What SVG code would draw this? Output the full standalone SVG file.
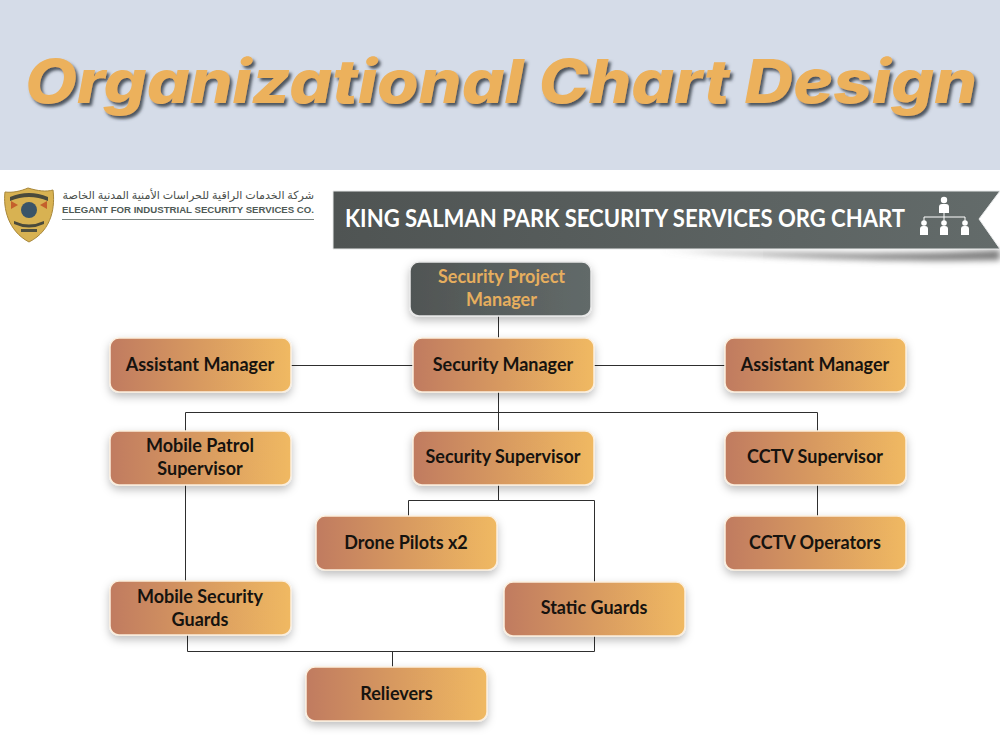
<svg xmlns="http://www.w3.org/2000/svg" width="1000" height="750" viewBox="0 0 1000 750">
<style>
.n{fill:url(#ng);stroke:#fbeedd;stroke-width:1.5;filter:url(#sh)}
.t{font-family:Lato,"Open Sans","Liberation Sans",sans-serif;font-weight:700;font-size:18px;fill:#16130f;text-anchor:middle}
.c{fill:none;stroke:#2e2e2e;stroke-width:1}
</style>
<defs>
<linearGradient id="ng"><stop offset="0" stop-color="#c07b60"/><stop offset="1" stop-color="#f0b962"/></linearGradient>
<linearGradient id="dg"><stop offset="0" stop-color="#505554"/><stop offset="1" stop-color="#626a69"/></linearGradient>
<linearGradient id="bg"><stop offset="0" stop-color="#4f5453"/><stop offset="1" stop-color="#636b6a"/></linearGradient>
<filter id="sh" x="-15%" y="-25%" width="130%" height="160%"><feDropShadow dx="0" dy="4" stdDeviation="4" flood-color="#000" flood-opacity=".25"/></filter>
<filter id="ts" x="-5%" y="-20%" width="110%" height="150%"><feDropShadow dx="2.500" dy="3" stdDeviation="1.500" flood-color="#3d4450" flood-opacity=".9"/></filter>
<filter id="bl" x="-20%" y="-100%" width="140%" height="300%"><feGaussianBlur stdDeviation="3"/></filter>
<filter id="bv" x="-300%" y="-10%" width="700%" height="120%"><feGaussianBlur stdDeviation="1"/></filter>
</defs>
<rect width="1000" height="750" fill="#fff"/>
<rect width="1000" height="170" fill="#d5dce8"/>
<text x="25" y="103" font-family="Inter,'Open Sans',sans-serif" font-weight="800" font-style="italic" font-size="60" fill="#ecb15c" filter="url(#ts)" textLength="952" lengthAdjust="spacingAndGlyphs">Organizational Chart Design</text>

<g id="banner">
<path d="M660 250 C780 254 900 256 1000 250 L1000 260 C900 262 780 257 660 250Z" fill="#777" filter="url(#bl)"/>
<path d="M333 172 V278" stroke="#333" stroke-width="4" filter="url(#bv)" fill="none"/>
<path d="M333 191 H1000 L979 219 L1000 249 H333Z" fill="url(#bg)" stroke="#e8eaea" stroke-width="1"/>
<text x="345" y="227" font-family="Lato,'Open Sans',sans-serif" font-weight="700" font-size="24" fill="#fff" textLength="560" lengthAdjust="spacingAndGlyphs">KING SALMAN PARK SECURITY SERVICES ORG CHART</text>
<g fill="#fff">
<circle cx="944" cy="200" r="3.200"/><path d="M939 213 V207 Q939 204 942 204 H946 Q949 204 949 207 V213Z"/>
<circle cx="924" cy="223" r="2.800"/><path d="M920 235 V229 Q920 226 923 226 H925 Q928 226 928 229 V235Z"/>
<circle cx="944" cy="223" r="2.800"/><path d="M940 235 V229 Q940 226 943 226 H945 Q948 226 948 229 V235Z"/>
<circle cx="965" cy="223" r="2.800"/><path d="M961 235 V229 Q961 226 964 226 H966 Q969 226 969 229 V235Z"/>
</g>
<path d="M944 213 V222 M924 221 V217 H965 V221" fill="none" stroke="#fff" stroke-width="1"/>
</g>

<g id="logo">
<path d="M28 188 C38 191 46 192 53 190 C55 205 53 230 29 242 C8 231 3 208 5 192 C13 193 21 191 28 188Z" fill="#d8b252" stroke="#a8873a" stroke-width="1"/>
<path d="M10 197 Q29 189 48 197 L48 201 Q29 193 10 201Z" fill="#4a4a3c"/>
<circle cx="29" cy="210" r="8" fill="#3a5468"/>
<path d="M11 201 L18 205 L11 209Z M47 201 L40 205 L47 209Z" fill="#c4602c"/>
<path d="M14 221 Q29 228 44 221 L44 224 Q29 231 14 224Z" fill="#4a4a3c"/>
<path d="M21 229 H37 V232 H21Z" fill="#4f5040"/>
<text x="314" y="199" text-anchor="start" direction="rtl" font-family="'Noto Sans','DejaVu Sans',sans-serif" font-size="11.100" fill="#4a4f4c">شركة الخدمات الراقية للحراسات الأمنية المدنية الخاصة</text>
<text x="62" y="213" font-family="'Liberation Sans',sans-serif" font-weight="700" font-size="9.500" fill="#4f5a56" textLength="252" lengthAdjust="spacingAndGlyphs">ELEGANT FOR INDUSTRIAL SECURITY SERVICES CO.</text>
<path d="M62 219.500 H314" stroke="#7a8481" stroke-width="1.200"/>
</g>

<g id="connectors">
<path class="c" d="M498.500 316V338M291 365.500H413M594 365.500H725M498.500 392V431M185.500 431V412.500H817.500V431M185.500 485V581M498.500 485V500.500M408.500 516V500.500H594.500V582M817.500 485V516M187.500 635V651.500H594.500V636M392.500 651V667"/>
</g>

<g id="pm"><rect x="410" y="262" width="181" height="54" rx="9" fill="url(#dg)" stroke="#e8e8e8" stroke-width="1.500" filter="url(#sh)"/><text class="t" style="fill:#e6ae5e" x="501.500" y="283">Security Project</text><text class="t" style="fill:#e6ae5e" x="501.500" y="306">Manager</text></g>
<g id="am1"><rect class="n" x="110" y="338" width="181" height="54" rx="9"/><text class="t" x="200" y="371">Assistant Manager</text></g>
<g id="sm"><rect class="n" x="413" y="338" width="181" height="54" rx="9"/><text class="t" x="503" y="371">Security Manager</text></g>
<g id="am2"><rect class="n" x="725" y="338" width="181" height="54" rx="9"/><text class="t" x="815" y="371">Assistant Manager</text></g>
<g id="mps"><rect class="n" x="110" y="431" width="181" height="54" rx="9"/><text class="t" x="200" y="452">Mobile Patrol</text><text class="t" x="200" y="475">Supervisor</text></g>
<g id="ss"><rect class="n" x="413" y="431" width="181" height="54" rx="9"/><text class="t" x="503" y="463">Security Supervisor</text></g>
<g id="cs"><rect class="n" x="725" y="431" width="181" height="54" rx="9"/><text class="t" x="815" y="463">CCTV Supervisor</text></g>
<g id="dp"><rect class="n" x="316" y="516" width="181" height="54" rx="9"/><text class="t" x="406" y="549">Drone Pilots x2</text></g>
<g id="co"><rect class="n" x="725" y="516" width="181" height="54" rx="9"/><text class="t" x="815" y="549">CCTV Operators</text></g>
<g id="msg"><rect class="n" x="110" y="581" width="181" height="54" rx="9"/><text class="t" x="200" y="603">Mobile Security</text><text class="t" x="200" y="626">Guards</text></g>
<g id="sg"><rect class="n" x="504" y="582" width="181" height="54" rx="9"/><text class="t" x="594" y="614">Static Guards</text></g>
<g id="rel"><rect class="n" x="306" y="667" width="181" height="54" rx="9"/><text class="t" x="396.500" y="700">Relievers</text></g>
</svg>
